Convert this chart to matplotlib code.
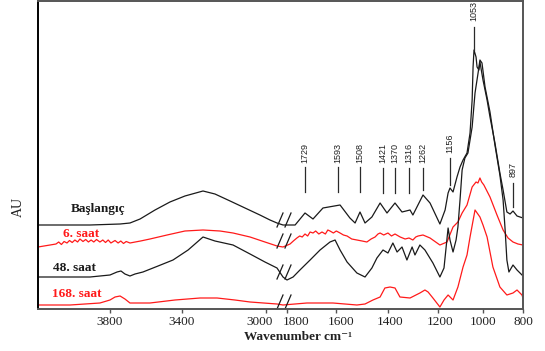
import numpy as np
import matplotlib
matplotlib.use("Agg")
import matplotlib.pyplot as plt
from matplotlib.transforms import ScaledTranslation, blended_transform_factory

# ---------------- data (wavenumber cm-1, absorbance in arbitrary units) ----------------
bas_w = [4200, 4078, 3911, 3744, 3689, 3633, 3550, 3467, 3386, 3300, 3243, 3171, 3100, 3029, 2943, 2850,
         1850, 1768, 1729, 1696, 1655, 1585, 1547, 1527, 1508, 1489, 1463, 1432, 1404, 1370, 1343, 1312,
         1301, 1262, 1233, 1193, 1174, 1163, 1156, 1143, 1126, 1113, 1100, 1083, 1070, 1061, 1057, 1053,
         1041, 1035, 1024, 1018, 1000, 986, 976, 959, 942, 931, 918, 907, 897, 858, 800]
bas_a = [84, 84, 84, 85, 86, 90, 99, 107, 113, 118, 115, 108, 101, 94, 89, 86,
         84, 84, 96, 90, 101, 104, 91, 86, 97, 86, 92, 106, 96, 106, 97, 99,
         94, 114, 106, 85, 99, 116, 121, 117, 132, 142, 149, 156, 176, 209, 242, 259,
         252, 242, 239, 247, 229, 209, 192, 166, 136, 119, 97, 95, 98, 93, 91]

s6_w = [4200, 4133, 4100, 4085, 4070, 4055, 4039, 4025, 4010, 3995, 3980, 3967, 3950, 3935, 3920, 3905,
        3890, 3875, 3856, 3840, 3825, 3810, 3795, 3772, 3755, 3740, 3725, 3710, 3689, 3660, 3630, 3578,
        3483, 3386, 3300, 3219, 3157, 3076, 3005, 2850,
        1850, 1788, 1775, 1761, 1750, 1740, 1729, 1718, 1708, 1696, 1685, 1672, 1659, 1645, 1635, 1626,
        1612, 1600, 1585, 1572, 1558, 1540, 1520, 1500, 1482, 1466, 1451, 1440, 1432, 1418, 1400, 1385,
        1370, 1350, 1331, 1316, 1301, 1290, 1281, 1262, 1233, 1193, 1167, 1143, 1122, 1104, 1083, 1061,
        1041, 1030, 1018, 1008, 997, 976, 952, 931, 914, 897, 849, 800]
s6_a = [62, 64, 65, 67, 64.5, 67.5, 66, 68.5, 66.5, 69, 67, 70, 67.5, 69.5, 67, 69,
        67, 69.5, 67, 69, 66.5, 69, 66, 68.5, 66, 68, 65.5, 67.5, 66, 67, 68, 70,
        74, 78, 79, 78, 76, 72, 67, 63,
        62, 65, 68, 71, 73, 72, 75, 73, 77, 76, 78, 75, 77, 75, 79, 78,
        76, 78, 76, 74, 73, 70, 69, 68, 67, 70, 72, 75, 76, 74, 76, 73,
        75, 72, 70, 71, 69, 72, 73, 74, 71, 64, 67, 82, 87, 96, 104, 122,
        127, 126, 131, 127, 124, 112, 94, 79, 71, 67, 65, 64]

s48_w = [4200, 4039, 3911, 3800, 3761, 3739, 3717, 3689, 3661, 3617, 3533, 3450, 3371, 3300, 3243, 3157,
         3076, 3005, 2850,
         1850, 1800, 1776, 1749, 1708, 1667, 1626, 1605, 1585, 1558, 1520, 1489, 1463, 1444, 1421, 1400,
         1379, 1362, 1343, 1324, 1304, 1293, 1274, 1254, 1221, 1193, 1178, 1163, 1156, 1143, 1130, 1122,
         1113, 1104, 1092, 1079, 1061, 1047, 1029, 1018, 1006, 993, 976, 959, 942, 931, 924, 918, 911,
         897, 858, 800]
s48_a = [32, 32, 32, 34, 37, 38, 35, 33, 35, 37, 43, 49, 59, 72, 68, 64,
         55, 47, 41,
         32, 29, 32, 39, 49, 59, 67, 69, 59, 47, 36, 32, 41, 51, 59, 56,
         66, 57, 62, 49, 62, 54, 64, 59, 46, 32, 41, 81, 69, 57, 69, 82,
         109, 139, 151, 156, 182, 216, 236, 249, 246, 222, 197, 164, 134, 109, 79, 49, 37,
         44, 39, 33]

s168_w = [4200, 4022, 3856, 3800, 3772, 3744, 3717, 3689, 3578, 3439, 3314, 3233, 3148, 3076, 2850,
          1850, 1721, 1614, 1520, 1489, 1459, 1432, 1413, 1391, 1370, 1351, 1312, 1274, 1254, 1241,
          1221, 1193, 1178, 1163, 1143, 1122, 1100, 1083, 1070, 1047, 1018, 1000, 986, 966, 942, 918,
          897, 858, 810, 800]
s168_a = [4, 4, 6, 9, 12, 13, 10, 6, 6, 9, 11, 11, 9, 7, 5,
          4, 6, 6, 4, 5, 9, 12, 21, 22, 21, 12, 11, 16, 19, 17,
          11, 2, 9, 14, 9, 22, 42, 54, 72, 99, 92, 84, 72, 42, 22, 14,
          16, 19, 14, 11]

series_names = ["Başlangıç", "6. saat", "48. saat", "168. saat"]
series_colors = ["#1a1a1a", "#ff1a1a", "#1a1a1a", "#ff1a1a"]

peak_labels = [1729, 1593, 1508, 1421, 1370, 1316, 1262, 1156, 1053, 897]
tick_values = [3800, 3400, 3000, 1800, 1600, 1400, 1200, 1000, 800]

# ---------------- broken-axis scale (piecewise linear) ----------------
SCALE_W = np.array([800, 897, 1000, 1053, 1156, 1200, 1262, 1316, 1370, 1421, 1508, 1593, 1729,
                    1800, 1850, 2850, 2900, 3000, 3400, 3800, 4200], dtype=float)
SCALE_PX = np.array([523, 513, 483, 474, 450, 438, 423, 409, 395, 383, 360, 338, 305,
                     287, 283, 277, 273, 266, 182, 110, 38], dtype=float)
SCALE_T = 1 - (SCALE_PX - 38) / 485.0


def fwd(w):
    return np.interp(np.asarray(w, dtype=float), SCALE_W, SCALE_T)


def inv(t):
    return np.interp(np.asarray(t, dtype=float), SCALE_T, SCALE_W)


serif = ["Liberation Serif", "DejaVu Serif"]
fig = plt.figure(figsize=(5.45, 3.51), dpi=100)
ax = fig.add_axes([38 / 545, 1 - 309 / 351, 485 / 545, 308 / 351])
ax.set_xscale("function", functions=(fwd, inv))
ax.set_xlim(4200, 800)
ax.set_ylim(0, 308)

curves = [(bas_w, bas_a), (s6_w, s6_a), (s48_w, s48_a), (s168_w, s168_a)]
for (w, a), c in zip(curves, series_colors):
    ax.plot(w, a, color=c, lw=0.9, solid_joinstyle="round")

# curve labels
label_pos = [(3867, 100), (3961, 75), (4000, 41), (3983, 15)]
for name, c, (lx, ly) in zip(series_names, series_colors, label_pos):
    ax.text(lx, ly, name, color=c, fontsize=9.5, fontweight="bold", family=serif,
            ha="center", va="center")

# break marks
bt = blended_transform_factory(ax.transAxes, ax.transData)
break_y = [89, 68, 37, 7]
for yc in break_y:
    for pxc in (280, 288):
        x0 = (pxc - 3 - 38) / 485
        x1 = (pxc + 3 - 38) / 485
        ax.plot([x0, x1], [yc - 7, yc + 7], transform=bt, color="#1a1a1a", lw=0.9, clip_on=False)

# peak annotations: (line bottom, line top, text bottom) in axis units
peak_geom = {1729: (117, 142, 146), 1593: (117, 142, 146), 1508: (117, 142, 146),
             1421: (116, 141, 146), 1370: (116, 141, 146), 1316: (116, 141, 146),
             1262: (119, 141, 146), 1156: (124, 151, 156), 1053: (259, 282, 288),
             897: (102, 126, 132)}
for p in peak_labels:
    yb, yt, ytx = peak_geom[p]
    ax.plot([p, p], [yb, yt], color="#2a2a2a", lw=0.9)
    ax.text(p, ytx, str(p), rotation=90, ha="center", va="bottom", fontsize=6.5,
            family=["Liberation Sans", "DejaVu Sans"], color="#222222")

# axes styling
ax.set_yticks([])
ax.set_xticks(tick_values)
ax.set_xticklabels([str(t) for t in tick_values], family=serif, fontsize=9.5, color="#222222")
ax.tick_params(axis="x", direction="out", length=3, width=1, color="#555555", pad=2)
for s in ["top", "right", "bottom"]:
    ax.spines[s].set_color("#555555")
    ax.spines[s].set_linewidth(1.4)
ax.spines["left"].set_color("#000000")
ax.spines["left"].set_linewidth(1.4)

label_shift = {3000: -6, 1800: 9, 1600: 5, 1400: 2, 1200: 2}
for tk, val in zip(ax.xaxis.get_major_ticks(), tick_values):
    if val in label_shift:
        tk.label1.set_transform(tk.label1.get_transform()
                                + ScaledTranslation(label_shift[val] / 100, 0, fig.dpi_scale_trans))

fig.text(298 / 545, 1 - 337 / 351, "Wavenumber cm\u207b\u00b9", family=serif, fontsize=9.5,
         fontweight="bold", ha="center", va="center", color="#222222")
fig.text(18 / 545, 1 - 207 / 351, "AU", family=serif, fontsize=10, rotation=90,
         ha="center", va="center", color="#222222")

fig.savefig("out.png", dpi=100)
